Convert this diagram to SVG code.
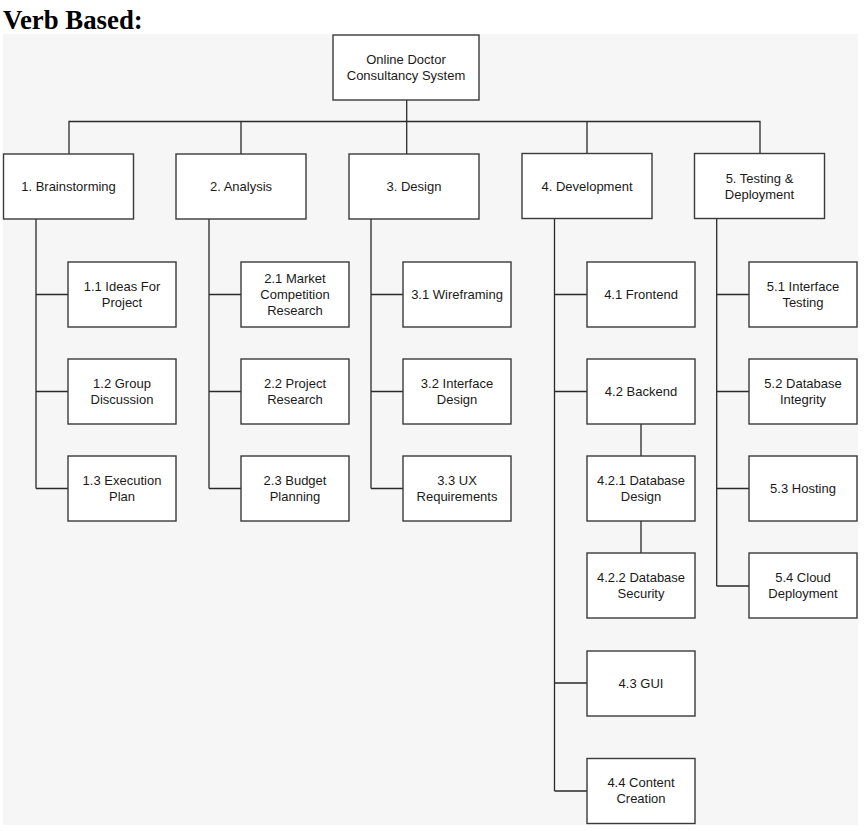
<svg xmlns="http://www.w3.org/2000/svg" width="868" height="831" viewBox="0 0 868 831">
<style>
.bx{fill:#ffffff;stroke:#3a3a3a;stroke-width:1.4}
.t{font-family:"Liberation Sans",Arial,sans-serif;font-size:13px;fill:#1a1a1a;text-anchor:middle}
.c{fill:none;stroke:#2a2a2a;stroke-width:1.3}
.title{font-family:"Liberation Serif","Times New Roman",serif;font-size:26.8px;font-weight:bold;fill:#000}
</style>
<rect x="0" y="0" width="868" height="831" fill="#ffffff"/>
<rect x="3" y="34" width="855" height="791" fill="#f6f6f6"/>
<text class="title" x="3" y="28.5">Verb Based:</text>

<g id="connectors">
<path class="c" d="M406.7,100 V154 M69,154 V121.5 H760 V154 M241,121.5 V154 M587,121.5 V154"/>
<path class="c" d="M36,219 V488.5 M36,294.5 H68 M36,391.5 H68 M36,488.5 H68"/>
<path class="c" d="M209,219 V488.5 M209,294.5 H241 M209,391.5 H241 M209,488.5 H241"/>
<path class="c" d="M371,219 V488.5 M371,294.5 H403 M371,391.5 H403 M371,488.5 H403"/>
<path class="c" d="M554.5,218 V791 M554.5,294.5 H587 M554.5,391.5 H587 M554.5,683 H587 M554.5,791 H587"/>
<path class="c" d="M641,424 V456 M641,521 V553"/>
<path class="c" d="M716.7,218 V586 M716.7,294.5 H749 M716.7,391.5 H749 M716.7,488.5 H749 M716.7,586 H749"/>
</g>

<g id="root"><rect class="bx" x="333" y="35" width="146" height="65"/><text class="t" x="406" y="63.5">Online Doctor</text><text class="t" x="406" y="79.5">Consultancy System</text></g>

<g id="n1"><rect class="bx" x="3.5" y="154" width="130" height="65"/><text class="t" x="68.5" y="191">1. Brainstorming</text></g>
<g id="n2"><rect class="bx" x="176" y="154" width="130" height="65"/><text class="t" x="241" y="191">2. Analysis</text></g>
<g id="n3"><rect class="bx" x="349" y="154" width="130" height="65"/><text class="t" x="414" y="191">3. Design</text></g>
<g id="n4"><rect class="bx" x="522" y="153.5" width="130" height="65"/><text class="t" x="587" y="190.5">4. Development</text></g>
<g id="n5"><rect class="bx" x="694.5" y="153.5" width="130" height="65"/><text class="t" x="759.5" y="182.5">5. Testing &amp;</text><text class="t" x="759.5" y="198.5">Deployment</text></g>

<g id="n1_1"><rect class="bx" x="68" y="262" width="108" height="65"/><text class="t" x="122" y="290.5">1.1 Ideas For</text><text class="t" x="122" y="306.5">Project</text></g>
<g id="n1_2"><rect class="bx" x="68" y="359" width="108" height="65"/><text class="t" x="122" y="387.5">1.2 Group</text><text class="t" x="122" y="403.5">Discussion</text></g>
<g id="n1_3"><rect class="bx" x="68" y="456" width="108" height="65"/><text class="t" x="122" y="484.5">1.3 Execution</text><text class="t" x="122" y="500.5">Plan</text></g>

<g id="n2_1"><rect class="bx" x="241" y="262" width="108" height="65"/><text class="t" x="295" y="282.5">2.1 Market</text><text class="t" x="295" y="298.5">Competition</text><text class="t" x="295" y="314.5">Research</text></g>
<g id="n2_2"><rect class="bx" x="241" y="359" width="108" height="65"/><text class="t" x="295" y="387.5">2.2 Project</text><text class="t" x="295" y="403.5">Research</text></g>
<g id="n2_3"><rect class="bx" x="241" y="456" width="108" height="65"/><text class="t" x="295" y="484.5">2.3 Budget</text><text class="t" x="295" y="500.5">Planning</text></g>

<g id="n3_1"><rect class="bx" x="403" y="262" width="108" height="65"/><text class="t" x="457" y="299">3.1 Wireframing</text></g>
<g id="n3_2"><rect class="bx" x="403" y="359" width="108" height="65"/><text class="t" x="457" y="387.5">3.2 Interface</text><text class="t" x="457" y="403.5">Design</text></g>
<g id="n3_3"><rect class="bx" x="403" y="456" width="108" height="65"/><text class="t" x="457" y="484.5">3.3 UX</text><text class="t" x="457" y="500.5">Requirements</text></g>

<g id="n4_1"><rect class="bx" x="587" y="262" width="108" height="65"/><text class="t" x="641" y="299">4.1 Frontend</text></g>
<g id="n4_2"><rect class="bx" x="587" y="359" width="108" height="65"/><text class="t" x="641" y="396">4.2 Backend</text></g>
<g id="n4_2_1"><rect class="bx" x="587" y="456" width="108" height="65"/><text class="t" x="641" y="484.5">4.2.1 Database</text><text class="t" x="641" y="500.5">Design</text></g>
<g id="n4_2_2"><rect class="bx" x="587" y="553" width="108" height="65"/><text class="t" x="641" y="581.5">4.2.2 Database</text><text class="t" x="641" y="597.5">Security</text></g>
<g id="n4_3"><rect class="bx" x="587" y="651" width="108" height="65"/><text class="t" x="641" y="688">4.3 GUI</text></g>
<g id="n4_4"><rect class="bx" x="587" y="758.5" width="108" height="65"/><text class="t" x="641" y="787">4.4 Content</text><text class="t" x="641" y="803">Creation</text></g>

<g id="n5_1"><rect class="bx" x="749" y="262" width="108" height="65"/><text class="t" x="803" y="290.5">5.1 Interface</text><text class="t" x="803" y="306.5">Testing</text></g>
<g id="n5_2"><rect class="bx" x="749" y="359" width="108" height="65"/><text class="t" x="803" y="387.5">5.2 Database</text><text class="t" x="803" y="403.5">Integrity</text></g>
<g id="n5_3"><rect class="bx" x="749" y="456" width="108" height="65"/><text class="t" x="803" y="493">5.3 Hosting</text></g>
<g id="n5_4"><rect class="bx" x="749" y="553" width="108" height="65"/><text class="t" x="803" y="581.5">5.4 Cloud</text><text class="t" x="803" y="597.5">Deployment</text></g>
</svg>
